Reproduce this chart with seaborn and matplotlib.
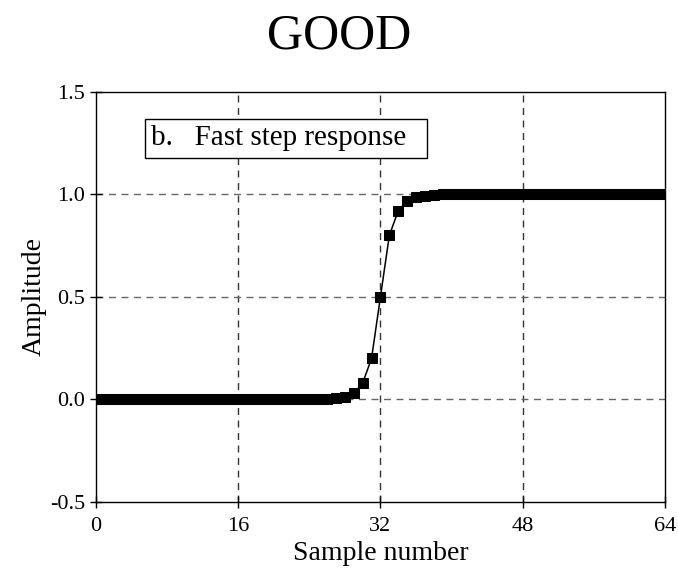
import numpy as np
import pandas as pd
import matplotlib
matplotlib.use("Agg")
import matplotlib.pyplot as plt
import seaborn as sns

# Sample values (0..64)
samples = list(range(65))
low_part = [0.0] * 26 + [0.002, 0.005, 0.012, 0.03, 0.08, 0.2]
mid_part = [0.5]
high_part = [0.8, 0.92, 0.97, 0.988, 0.995, 0.998] + [1.0] * 26
amplitude = low_part + mid_part + high_part

df = pd.DataFrame({"sample": samples, "amplitude": amplitude})

sns.set_style("white")
plt.rcParams['font.family'] = ['Liberation Serif', 'DejaVu Serif']
plt.rcParams['text.color'] = 'black'

fig = plt.figure(figsize=(6.78, 5.75), dpi=100)
ax = fig.add_axes([0.1416, 0.127, 0.839, 0.713])

sns.lineplot(data=df, x="sample", y="amplitude", color="black", lw=1.1,
             marker="s", markersize=7, markeredgecolor="black", ax=ax)

ax.set_xlim(0, 64)
ax.set_ylim(-0.5, 1.5)
ax.set_xticks([0, 16, 32, 48, 64])
ax.set_yticks([-0.5, 0.0, 0.5, 1.0, 1.5])
ax.set_yticklabels(["-0.5", "0.0", "0.5", "1.0", "1.5"])
ax.tick_params(bottom=True, left=True, direction="inout", length=9, width=1,
               labelsize=16, colors="black")
ax.tick_params(axis="x", pad=6)

for v in [16, 32, 48]:
    ax.axvline(v, color="#333333", ls=(0, (5, 4)), lw=1, zorder=0)
for v in [0.0, 0.5, 1.0]:
    ax.axhline(v, color="#666666", ls=(0, (5, 4)), lw=1, zorder=0)

for s in ax.spines.values():
    s.set_color("black")
    s.set_linewidth(1)

ax.set_xlabel("Sample number", fontsize=20, labelpad=4, color="black")
ax.set_ylabel("Amplitude", fontsize=20, labelpad=2, color="black")
fig.suptitle("GOOD", fontsize=36, y=0.978, color="black")

ax.text(0.097, 0.887, "b.   Fast step response\u00a0\u00a0", transform=ax.transAxes,
        fontsize=21, va="center", ha="left", color="black",
        bbox=dict(boxstyle="square,pad=0.22", fc="white", ec="black", lw=1))

fig.savefig("out.png", dpi=100)
